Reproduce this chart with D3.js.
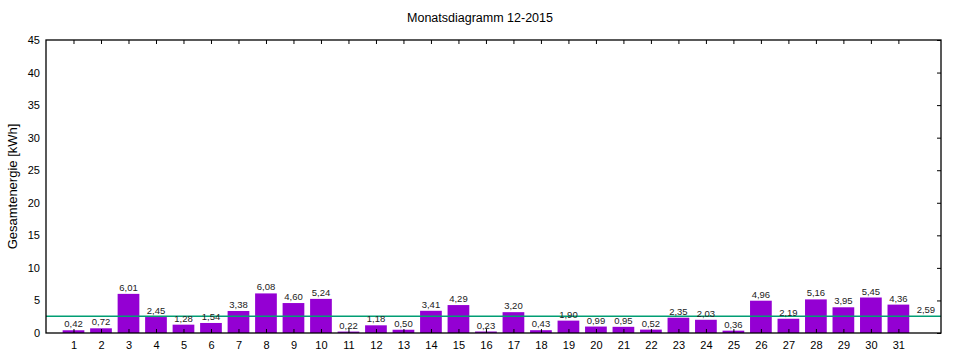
<!DOCTYPE html>
<html><head><meta charset="utf-8">
<script src="https://cdn.jsdelivr.net/npm/d3@7"></script>
<style>body{margin:0;background:#fff}svg{display:block}</style>
</head><body>
<svg id="c" width="960" height="360"></svg>
<script>
const days = d3.range(1, 32);
const values = [0.42,0.72,6.01,2.45,1.28,1.54,3.38,6.08,4.60,5.24,0.22,1.18,0.50,3.41,4.29,0.23,3.20,0.43,1.90,0.99,0.95,0.52,2.35,2.03,0.36,4.96,2.19,5.16,3.95,5.45,4.36];
const average = 2.59;
const yTicks = [0,5,10,15,20,25,30,35,40,45];
const title = "Monatsdiagramm 12-2015";
const yLabel = "Gesamtenergie [kWh]";

const svg = d3.select("#c");
const L = 46, R = 941, T = 40, B = 333;
const x = d3.scaleLinear().domain([0, 32.55]).range([L, R]);
const y = d3.scaleLinear().domain([0, 45]).range([B, T]);
const fmt = v => v.toFixed(2).replace(".", ",");
const font = "Arial, 'Liberation Sans', sans-serif";

svg.append("text").attr("x", 480).attr("y", 22).attr("text-anchor", "middle")
  .attr("font-family", font).attr("font-size", 12.5).attr("fill", "#000").text(title);

svg.append("text").attr("transform", `translate(17,${(T+B)/2}) rotate(-90)`)
  .attr("text-anchor", "middle").attr("font-family", font).attr("font-size", 13).text(yLabel);

// bars
const bw = x(0.79) - x(0);
svg.append("g").selectAll("rect").data(values).join("rect")
  .attr("x", (d,i) => x(days[i]) - bw/2).attr("width", bw)
  .attr("y", d => y(d)).attr("height", d => B - y(d))
  .attr("fill", "#9400d3");

// bottom ticks (inward)
const gb = svg.append("g").attr("transform", `translate(0,${B})`)
  .call(d3.axisBottom(x).tickValues(days).tickSize(-4).tickPadding(8).tickFormat(d3.format("d")));
gb.select(".domain").remove();
gb.selectAll("line").attr("stroke", "#000");
gb.selectAll("text").attr("font-family", font).attr("font-size", 11).attr("fill", "#000");

// top ticks
const gt = svg.append("g").attr("transform", `translate(0,${T})`)
  .call(d3.axisTop(x).tickValues(days).tickSize(-4).tickFormat(""));
gt.select(".domain").remove();
gt.selectAll("line").attr("stroke", "#000");

// left labels
const gl = svg.append("g").attr("transform", `translate(${L},0)`)
  .call(d3.axisLeft(y).tickValues(yTicks).tickSize(0).tickPadding(6).tickFormat(d3.format("d")));
gl.select(".domain").remove();
gl.selectAll("text").attr("font-family", font).attr("font-size", 11).attr("fill", "#000");

// right ticks
const gr = svg.append("g").attr("transform", `translate(${R},0)`)
  .call(d3.axisRight(y).tickValues(yTicks).tickSize(-4).tickFormat(""));
gr.select(".domain").remove();
gr.selectAll("line").attr("stroke", "#000");

// average line
svg.append("line").attr("x1", L).attr("x2", R).attr("y1", y(average)).attr("y2", y(average))
  .attr("stroke", "#009e73").attr("stroke-width", 1.5);

// value labels
svg.append("g").selectAll("text").data(values).join("text")
  .attr("x", (d,i) => x(days[i])).attr("y", d => y(d) - 3)
  .attr("text-anchor", "middle").attr("font-family", font).attr("font-size", 9.5).attr("fill", "#222")
  .text(d => fmt(d));
svg.append("text").attr("x", x(32)).attr("y", y(average) - 3).attr("text-anchor", "middle")
  .attr("font-family", font).attr("font-size", 9.5).attr("fill", "#222").text(fmt(average));

// frame
svg.append("rect").attr("x", L).attr("y", T).attr("width", R - L).attr("height", B - T)
  .attr("fill", "none").attr("stroke", "#000").attr("stroke-width", 1.3);
</script>
</body></html>
